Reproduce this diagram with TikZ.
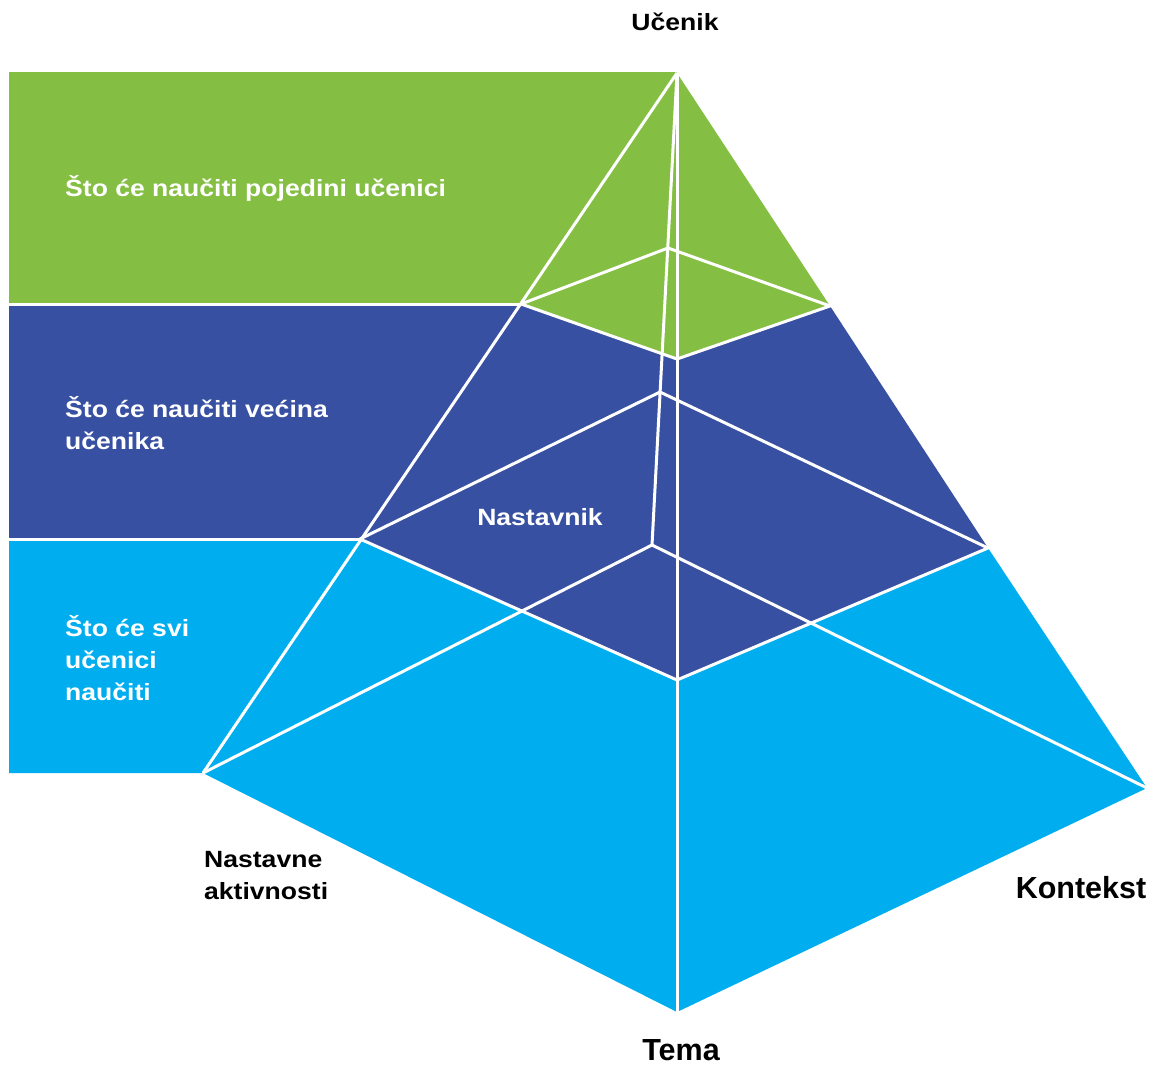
\documentclass[tikz,border=0pt]{standalone}
\usepackage{fontspec}
\setmainfont{Liberation Sans}
\newfontfamily\lblfont[FakeStretch=1.13]{Liberation Sans}
\definecolor{cgreen}{RGB}{132,190,66}
\definecolor{cdark}{RGB}{56,80,162}
\definecolor{clight}{RGB}{0,174,239}
\begin{document}
\begin{tikzpicture}[x=1pt,y=-1pt,
  edge/.style={white, line width=3pt, line join=round},
  band/.style={font=\lblfont\bfseries\fontsize{23.5}{32}\selectfont, text=white, align=left, inner sep=0pt, anchor=west},
  outer/.style={font=\lblfont\bfseries\fontsize{23.5}{32}\selectfont, text=black, inner sep=0pt},
  big/.style={font=\bfseries\fontsize{30.5}{34}\selectfont, text=black, inner sep=0pt}]
\useasboundingbox (0,0) rectangle (1156,1066);
% pyramid points
\coordinate (A) at (677,73);
\coordinate (L) at (203,773);
\coordinate (F) at (677,1012);
\coordinate (R) at (1147,788);
\coordinate (Bk) at (652,545);
\coordinate (L1) at (521,304);
\coordinate (B1) at (668,248);
\coordinate (R1) at (830,306);
\coordinate (F1) at (677,359);
\coordinate (L2) at (360,539);
\coordinate (B2) at (660,392);
\coordinate (R2) at (988,548);
\coordinate (F2) at (677,680);
\coordinate (G0) at (9,72);
\coordinate (G1) at (9,304);
\coordinate (G2) at (9,539);
\coordinate (G3) at (9,773);
% fills
\fill[cgreen] (G0) -- (677,72) -- (A) -- (R1) -- (F1) -- (L1) -- (G1) -- cycle;
\fill[cdark] (G1) -- (L1) -- (F1) -- (R1) -- (R2) -- (F2) -- (L2) -- (G2) -- cycle;
\fill[clight] (G2) -- (L2) -- (F2) -- (R2) -- (R) -- (F) -- (L) -- (G3) -- cycle;
% white edges
\draw[edge] (G1) -- (L1);
\draw[edge] (G2) -- (L2);
\draw[edge] (A) -- (L);
\draw[edge] (A) -- (F);
\draw[edge] (A) -- (Bk);
\draw[edge] (L) -- (Bk) -- (R);
\draw[edge] (L1) -- (B1) -- (R1) -- (F1) -- cycle;
\draw[edge] (L2) -- (B2) -- (R2) -- (F2) -- cycle;
% labels
\node[band] (t1) at (65,188) {Što će naučiti pojedini učenici};
\node[band] (t2) at (65,423) {Što će naučiti većina\\učenika};
\node[band] (t3) at (65,658) {Što će svi\\učenici\\naučiti};
\node[outer, text=white] (nast) at (540,517) {Nastavnik};
\node[outer] (uc) at (675,22) {Učenik};
\node[outer, align=left, anchor=west] (na) at (204,876) {Nastavne\\aktivnosti};
\node[big] (kon) at (1081,888) {Kontekst};
\node[big] (tema) at (681,1050) {Tema};
\end{tikzpicture}
\end{document}
